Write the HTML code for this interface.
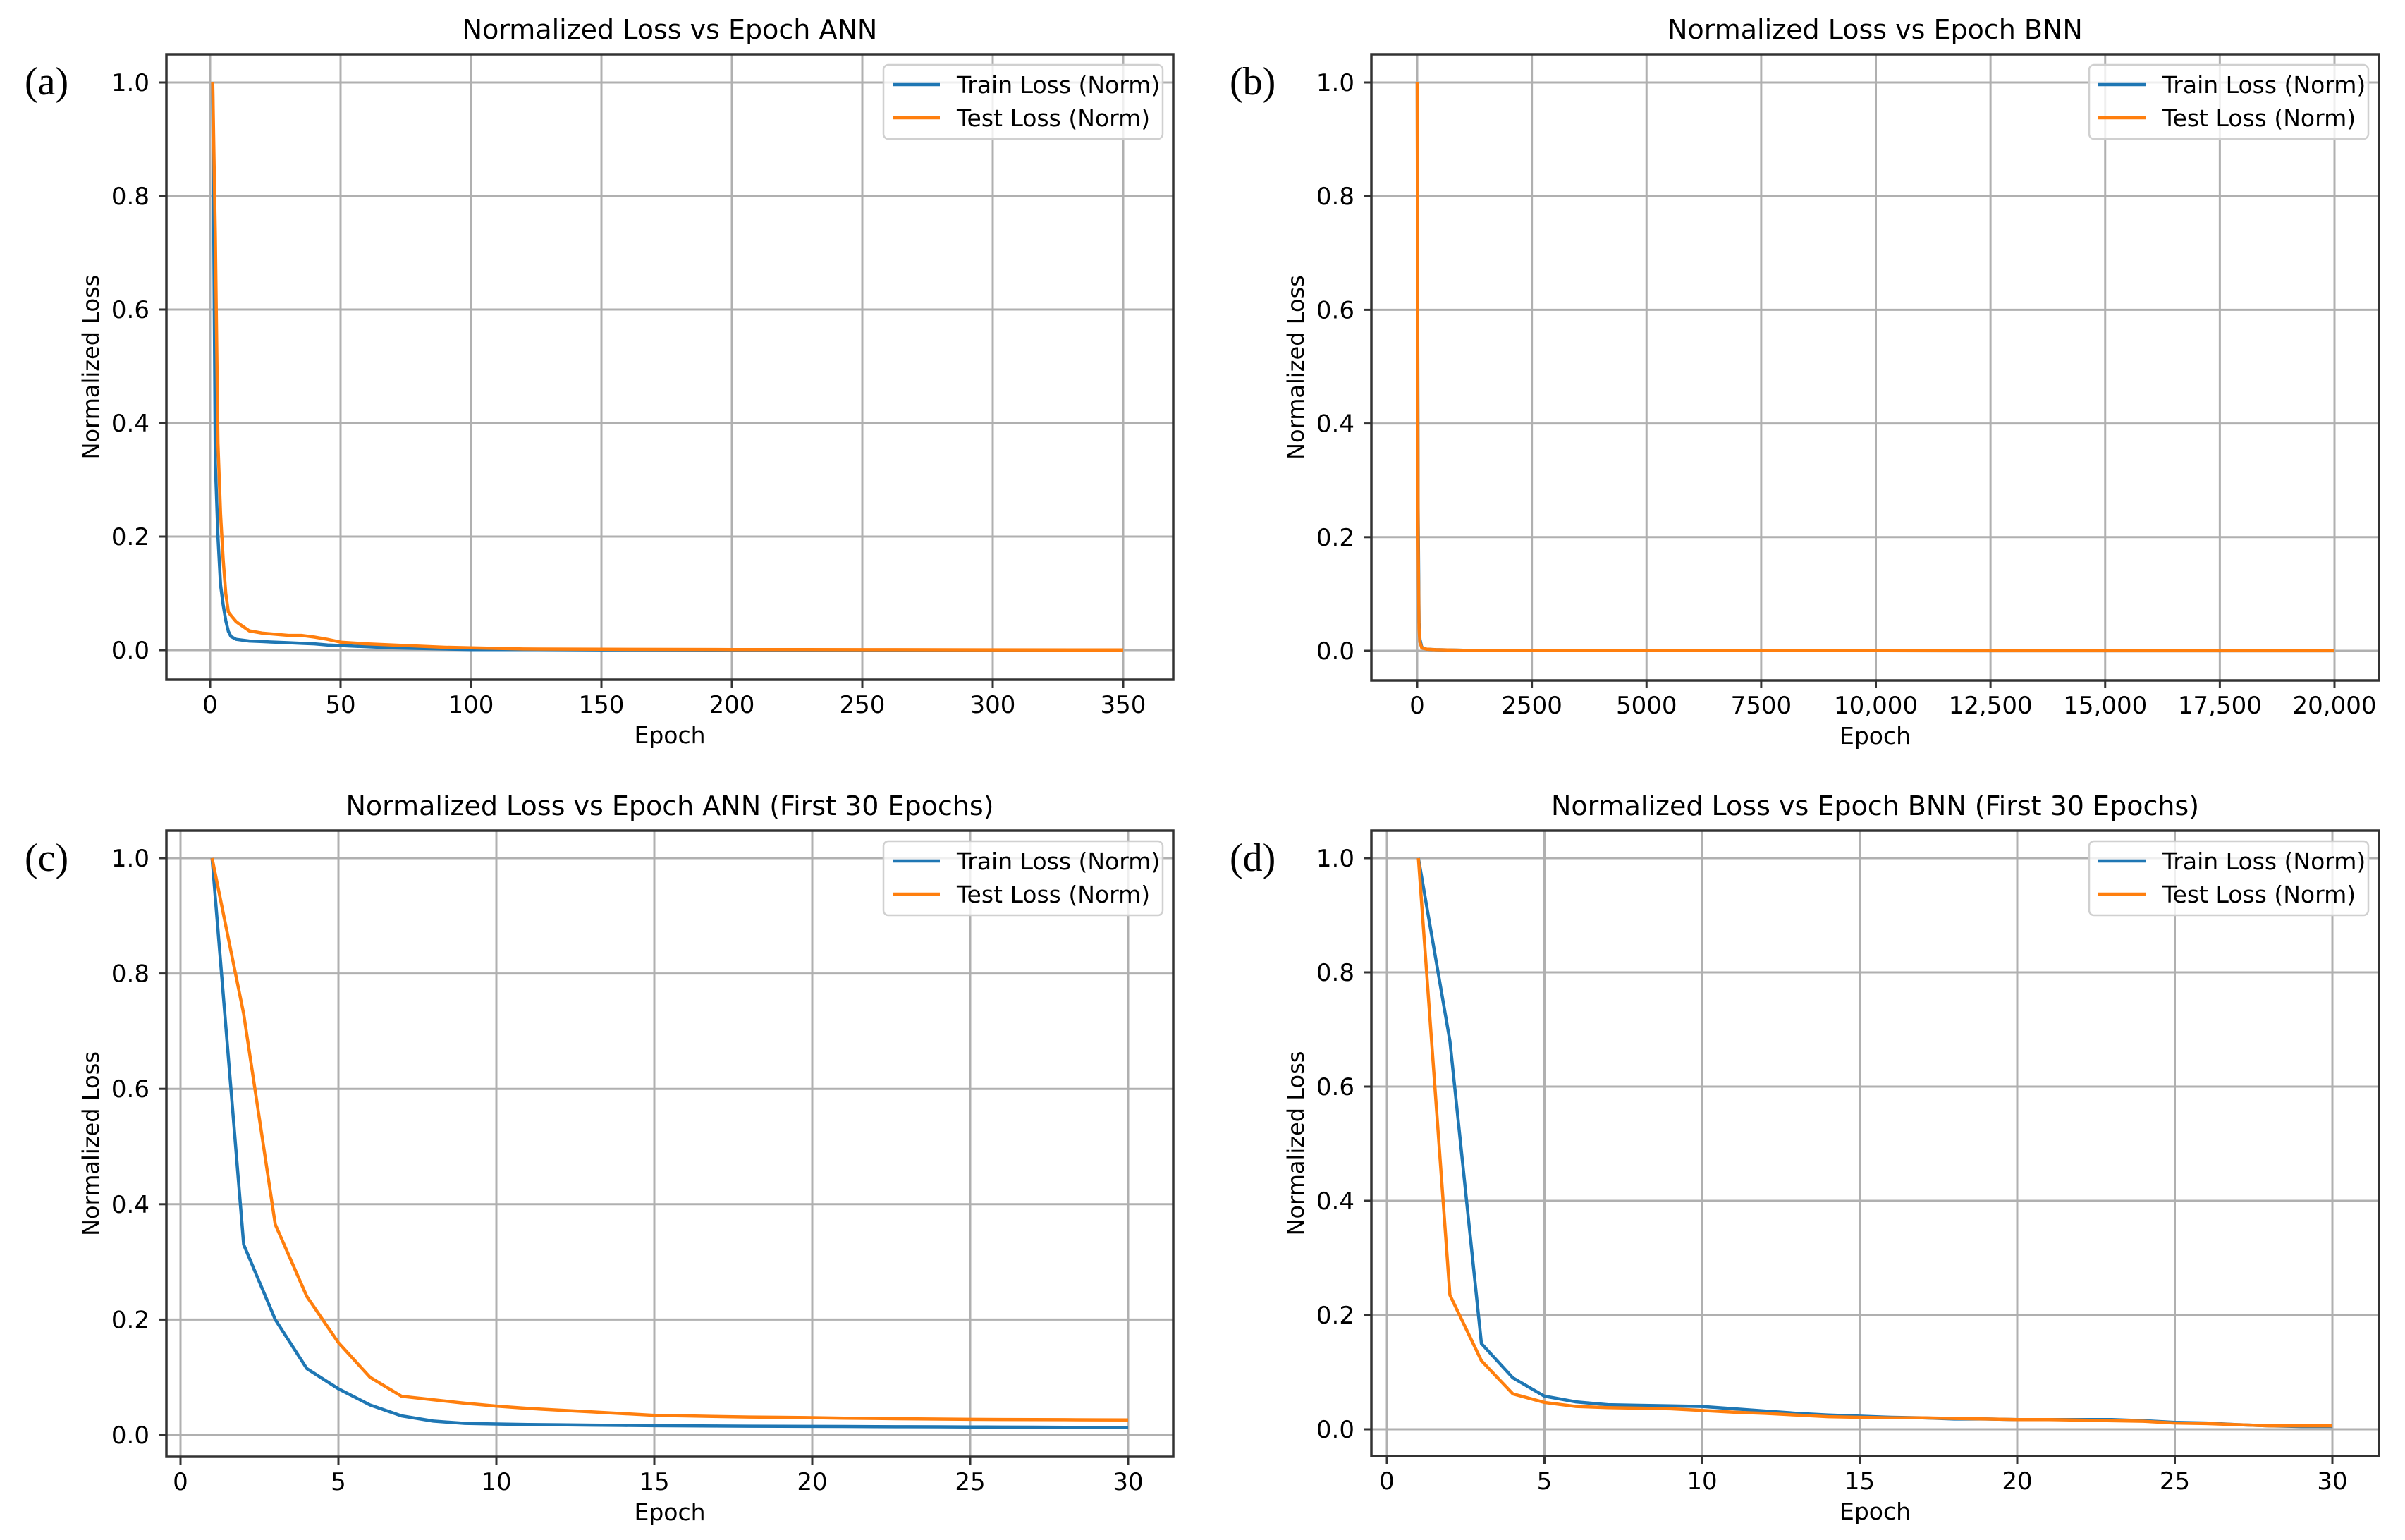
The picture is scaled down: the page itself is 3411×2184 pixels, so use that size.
<!DOCTYPE html>
<html><head><meta charset="utf-8"><style>
html,body{margin:0;padding:0;background:#fff;}
svg{display:block;}
text{font-family:"DejaVu Sans","Liberation Sans",sans-serif;fill:#000;}
</style></head><body>
<svg id="fig" width="3411" height="2184" viewBox="0 0 3411 2184" xmlns="http://www.w3.org/2000/svg"></svg>
<script>
// ---- Panel (a) data: ANN full ----
const aEpochs = [1,2,3,4,5,6,7,8,10,15,20,30,35,40,45,50,60,70,80,90,100,120,150,200,250,300,350];
const aTrain  = [1.0,0.33,0.2,0.115,0.08,0.052,0.033,0.024,0.019,0.016,0.015,0.013,0.012,0.011,0.009,0.008,0.006,0.004,0.003,0.002,0.001,0.001,0.0005,0.0003,0.0002,0.0001,0.0];
const aTest   = [1.0,0.73,0.365,0.24,0.16,0.1,0.067,0.061,0.05,0.034,0.03,0.026,0.026,0.023,0.019,0.014,0.011,0.009,0.007,0.005,0.004,0.002,0.0015,0.001,0.0008,0.0005,0.0003];
// ---- Panel (b) data: BNN full ----
const bEpochs = [1,10,20,40,60,100,200,400,1000,3000,8000,14000,20000];
const bTrain  = [1.0,0.6,0.25,0.05,0.02,0.006,0.003,0.002,0.001,0.0005,0.0003,0.0002,0.0001];
const bTest   = [1.0,0.5,0.2,0.04,0.015,0.005,0.003,0.002,0.001,0.0005,0.0003,0.0002,0.0001];
// ---- Panel (c) data: ANN first 30 ----
const cEpochs = [1,2,3,4,5,6,7,8,9,10,11,12,13,14,15,16,17,18,19,20,21,22,23,24,25,26,27,28,29,30];
const cTrain  = [1.0,0.33,0.2,0.115,0.08,0.052,0.033,0.024,0.02,0.019,0.018,0.0175,0.017,0.0165,0.016,0.0158,0.0155,0.0152,0.015,0.0148,0.0146,0.0144,0.0142,0.014,0.0138,0.0136,0.0134,0.0132,0.013,0.013];
const cTest   = [1.0,0.73,0.365,0.24,0.16,0.1,0.067,0.061,0.055,0.05,0.046,0.043,0.04,0.037,0.034,0.033,0.032,0.031,0.0305,0.03,0.029,0.0285,0.028,0.0275,0.027,0.0268,0.0266,0.0264,0.0262,0.026];
// ---- Panel (d) data: BNN first 30 ----
const dEpochs = [1,2,3,4,5,6,7,8,9,10,11,12,13,14,15,16,17,18,19,20,21,22,23,24,25,26,27,28,29,30];
const dTrain  = [1.0,0.68,0.15,0.09,0.058,0.048,0.043,0.042,0.041,0.04,0.036,0.032,0.028,0.025,0.023,0.021,0.02,0.018,0.018,0.017,0.017,0.017,0.017,0.015,0.012,0.011,0.008,0.006,0.005,0.005];
const dTest   = [1.0,0.235,0.12,0.062,0.047,0.04,0.038,0.037,0.036,0.033,0.03,0.028,0.025,0.022,0.021,0.02,0.02,0.019,0.018,0.017,0.017,0.016,0.015,0.014,0.011,0.01,0.008,0.006,0.006,0.006];
// ---- ticks ----
const yTicks = [0.0,0.2,0.4,0.6,0.8,1.0];
const yTickLabels = ["0.0","0.2","0.4","0.6","0.8","1.0"];
const aXTicks = [0,50,100,150,200,250,300,350];
const aXTickLabels = ["0","50","100","150","200","250","300","350"];
const bXTicks = [0,2500,5000,7500,10000,12500,15000,17500,20000];
const bXTickLabels = ["0","2500","5000","7500","10,000","12,500","15,000","17,500","20,000"];
const cdXTicks = [0,5,10,15,20,25,30];
const cdXTickLabels = ["0","5","10","15","20","25","30"];

const NS="http://www.w3.org/2000/svg";
const svg=document.getElementById('fig');
function mk(tag,attrs,parent){const e=document.createElementNS(NS,tag);for(const k in attrs)e.setAttribute(k,attrs[k]);(parent||svg).appendChild(e);return e;}

function panel(cfg){
  const g=mk('g',{});
  
  
  const sx=v=>cfg.x0+(v-cfg.xv0)/(cfg.xv1-cfg.xv0)*(cfg.x1-cfg.x0);
  const sy=v=>cfg.y0+(v-0)/(1-0)*(cfg.y1-cfg.y0);
  cfg.xt.forEach((t,i)=>{
    const l=mk('line',{x1:sx(t),x2:sx(t),y1:cfg.T,y2:cfg.B,stroke:'#b0b0b0','stroke-width':3},g);
     
  });
  yTicks.forEach(t=>{
    const l=mk('line',{x1:cfg.L,x2:cfg.R,y1:sy(t),y2:sy(t),stroke:'#b0b0b0','stroke-width':3},g);
     
  });
  const line=(xs,ys,col,nm)=>{
    const p=mk('polyline',{points:xs.map((x,i)=>sx(x)+','+sy(ys[i])).join(' '),fill:'none',stroke:col,'stroke-width':4.5,'stroke-linejoin':'round'},g);
     
  };
  line(cfg.ex,cfg.tr,'#1f77b4','train-loss-line');
  line(cfg.ex,cfg.te,'#ff7f0e','test-loss-line');
  const fr=mk('rect',{x:cfg.L,y:cfg.T,width:cfg.R-cfg.L,height:cfg.B-cfg.T,fill:'none',stroke:'#333','stroke-width':3.5},g);
   
  cfg.xt.forEach((t,i)=>{
    mk('line',{x1:sx(t),x2:sx(t),y1:cfg.B,y2:cfg.B+11,stroke:'#333','stroke-width':3},g);
    const tx=mk('text',{x:sx(t),y:cfg.B+47,'font-size':34,'text-anchor':'middle'},g);
    tx.textContent=cfg.xl[i];
     
  });
  yTicks.forEach((t,i)=>{
    mk('line',{x1:cfg.L-11,x2:cfg.L,y1:sy(t),y2:sy(t),stroke:'#333','stroke-width':3},g);
    const tx=mk('text',{x:cfg.L-24,y:sy(t)+12,'font-size':34,'text-anchor':'end'},g);
    tx.textContent=yTickLabels[i];
     
  });
  const cx=(cfg.L+cfg.R)/2;
  const ti=mk('text',{x:cx,y:cfg.T-22,'font-size':38,'text-anchor':'middle'},g);
  ti.textContent=cfg.title;  
  const xl=mk('text',{x:cx,y:cfg.B+90,'font-size':33,'text-anchor':'middle'},g);
  xl.textContent='Epoch';  
  const ym=(cfg.T+cfg.B)/2;
  const yl=mk('text',{x:0,y:0,'font-size':32,'text-anchor':'middle',transform:`translate(${cfg.L-96},${ym}) rotate(-90)`},g);
  yl.textContent='Normalized Loss';  
  const pl=mk('text',{x:cfg.L-201,y:cfg.T+57,'font-size':56,style:'font-family:"Liberation Serif",serif'},g);
  pl.textContent=cfg.label;  
  const lg=mk('g',{},g);
   
  const lx=cfg.R-15-396, ly=cfg.T+15;
  mk('rect',{x:lx,y:ly,width:396,height:105,rx:7,fill:'#fff','fill-opacity':0.8,stroke:'#d0d0d0','stroke-width':2.5},lg);
  [['Train Loss (Norm)','#1f77b4'],['Test Loss (Norm)','#ff7f0e']].forEach((e,i)=>{
    const yy=ly+28+i*47;
    const en=mk('g',{},lg);
     
    mk('line',{x1:lx+13,x2:lx+80,y1:yy,y2:yy,stroke:e[1],'stroke-width':4.5},en);
    const t=mk('text',{x:lx+104,y:yy+12,'font-size':33},en); t.textContent=e[0];
  });
}

panel({name:'panel-a-ann',label:'(a)',title:'Normalized Loss vs Epoch ANN',L:236,R:1664,T:77,B:964,x0:298,x1:1593,xv0:0,xv1:350,y0:922,y1:117,xt:aXTicks,xl:aXTickLabels,ex:aEpochs,tr:aTrain,te:aTest});
panel({name:'panel-b-bnn',label:'(b)',title:'Normalized Loss vs Epoch BNN',L:1945,R:3374,T:77,B:965,x0:2010,x1:3311,xv0:0,xv1:20000,y0:923,y1:117,xt:bXTicks,xl:bXTickLabels,ex:bEpochs,tr:bTrain,te:bTest});
panel({name:'panel-c-ann-first30',label:'(c)',title:'Normalized Loss vs Epoch ANN (First 30 Epochs)',L:236,R:1664,T:1178,B:2066,x0:256,x1:1600,xv0:0,xv1:30,y0:2035,y1:1217,xt:cdXTicks,xl:cdXTickLabels,ex:cEpochs,tr:cTrain,te:cTest});
panel({name:'panel-d-bnn-first30',label:'(d)',title:'Normalized Loss vs Epoch BNN (First 30 Epochs)',L:1945,R:3374,T:1178,B:2065,x0:1967,x1:3308,xv0:0,xv1:30,y0:2027,y1:1217,xt:cdXTicks,xl:cdXTickLabels,ex:dEpochs,tr:dTrain,te:dTest});
</script>
</body></html>
